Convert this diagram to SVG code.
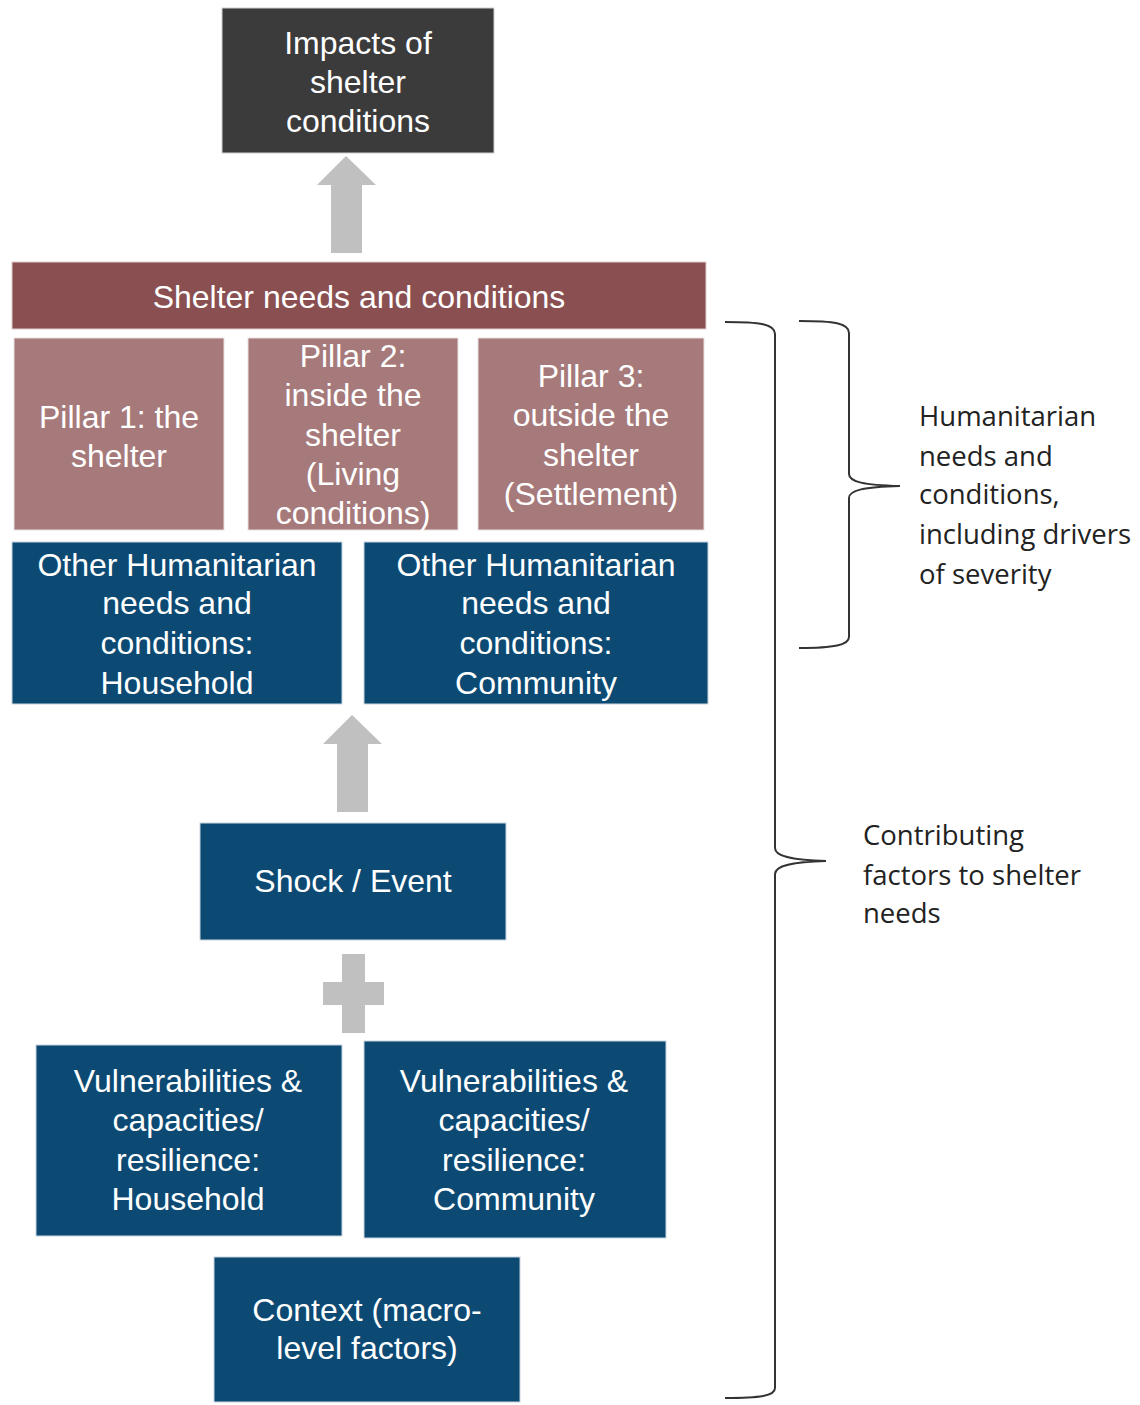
<svg xmlns="http://www.w3.org/2000/svg" width="1140" height="1405" viewBox="0 0 1140 1405">
<style>
.bt{font-family:"Liberation Sans",Arial,sans-serif;font-size:32px;fill:#ffffff;text-anchor:middle}
.side{font-family:"Open Sans","Noto Sans",sans-serif;font-size:27.5px;fill:#222222}
.dark{fill:#3b3b3b;stroke:#d0d0d0;stroke-width:1}
.red{fill:#8a4f51;stroke:#e0d0d0;stroke-width:1}
.pil{fill:#a67a7b;stroke:#eadede;stroke-width:1}
.blue{fill:#0c4a74;stroke:#c8d4de;stroke-width:1}
.grey{fill:#c0c0c0}
.br{fill:none;stroke:#333333;stroke-width:2}
</style>
<rect width="1140" height="1405" fill="#ffffff"/>
<g id="connectors">
<polygon class="grey" points="346,156 376,185 362,185 362,253 331,253 331,185 317,185"/>
<polygon class="grey" points="352,715 382,744 368,744 368,812 337,812 337,744 323,744"/>
<g id="plus">
<rect class="grey" x="342" y="954" width="23" height="79"/>
<rect class="grey" x="323" y="982" width="61" height="23"/>
</g>
<path class="br" d="M725,322 C760,322 775,324 775,334 L775,848 C775,856 790,860 826,861 C790,862 775,866 775,874 L775,1388 C775,1396 760,1398 725,1398"/>
<path class="br" d="M799,321 C834,321 849,323 849,333 L849,474 C849,482 864,485 900,486 C864,487 849,490 849,498 L849,637 C849,645 834,648 799,648"/>
</g>
<g id="impacts">
<rect class="dark" x="222" y="8" width="272" height="145"/>
<text class="bt" x="358" y="54">Impacts of</text>
<text class="bt" x="358" y="93">shelter</text>
<text class="bt" x="358" y="132">conditions</text>
</g>
<g id="shelter-needs">
<rect class="red" x="12" y="262" width="694" height="67"/>
<text class="bt" x="359" y="308">Shelter needs and conditions</text>
</g>
<g id="pillar1">
<rect class="pil" x="14" y="338" width="210" height="192"/>
<text class="bt" x="119" y="428">Pillar 1: the</text>
<text class="bt" x="119" y="467">shelter</text>
</g>
<g id="pillar2">
<rect class="pil" x="248" y="338" width="210" height="192"/>
<text class="bt" x="353" y="367">Pillar 2:</text>
<text class="bt" x="353" y="406">inside the</text>
<text class="bt" x="353" y="446">shelter</text>
<text class="bt" x="353" y="485">(Living</text>
<text class="bt" x="353" y="524">conditions)</text>
</g>
<g id="pillar3">
<rect class="pil" x="478" y="338" width="226" height="192"/>
<text class="bt" x="591" y="387">Pillar 3:</text>
<text class="bt" x="591" y="426">outside the</text>
<text class="bt" x="591" y="466">shelter</text>
<text class="bt" x="591" y="505">(Settlement)</text>
</g>
<g id="other-household">
<rect class="blue" x="12" y="542" width="330" height="162"/>
<text class="bt" x="177" y="576">Other Humanitarian</text>
<text class="bt" x="177" y="614">needs and</text>
<text class="bt" x="177" y="654">conditions:</text>
<text class="bt" x="177" y="694">Household</text>
</g>
<g id="other-community">
<rect class="blue" x="364" y="542" width="344" height="162"/>
<text class="bt" x="536" y="576">Other Humanitarian</text>
<text class="bt" x="536" y="614">needs and</text>
<text class="bt" x="536" y="654">conditions:</text>
<text class="bt" x="536" y="694">Community</text>
</g>
<g id="shock">
<rect class="blue" x="200" y="823" width="306" height="117"/>
<text class="bt" x="353" y="892">Shock / Event</text>
</g>
<g id="vuln-household">
<rect class="blue" x="36" y="1045" width="306" height="191"/>
<text class="bt" x="188" y="1092">Vulnerabilities &amp;</text>
<text class="bt" x="188" y="1131">capacities/</text>
<text class="bt" x="188" y="1171">resilience:</text>
<text class="bt" x="188" y="1210">Household</text>
</g>
<g id="vuln-community">
<rect class="blue" x="364" y="1041" width="302" height="197"/>
<text class="bt" x="514" y="1092">Vulnerabilities &amp;</text>
<text class="bt" x="514" y="1131">capacities/</text>
<text class="bt" x="514" y="1171">resilience:</text>
<text class="bt" x="514" y="1210">Community</text>
</g>
<g id="context">
<rect class="blue" x="214" y="1257" width="306" height="145"/>
<text class="bt" x="367" y="1321">Context (macro-</text>
<text class="bt" x="367" y="1359">level factors)</text>
</g>
<g id="label-humanitarian">
<text class="side" x="919" y="426">Humanitarian</text>
<text class="side" x="919" y="466">needs and</text>
<text class="side" x="919" y="504">conditions,</text>
<text class="side" x="919" y="544">including drivers</text>
<text class="side" x="919" y="584">of severity</text>
</g>
<g id="label-contributing">
<text class="side" x="863" y="845">Contributing</text>
<text class="side" x="863" y="885">factors to shelter</text>
<text class="side" x="863" y="923">needs</text>
</g>
</svg>
